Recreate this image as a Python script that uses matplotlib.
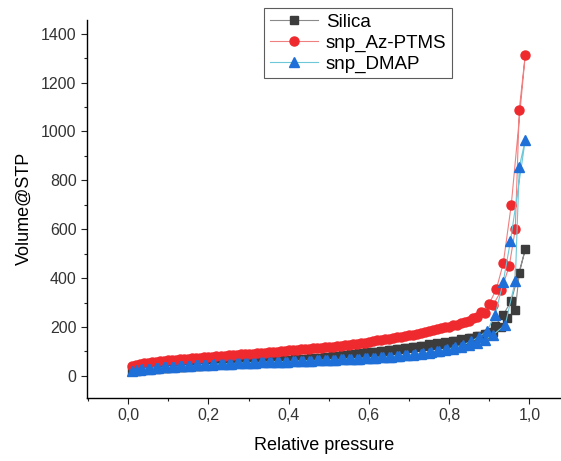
import matplotlib
matplotlib.use("Agg")
import matplotlib.pyplot as plt
from matplotlib.ticker import MultipleLocator, FuncFormatter

plt.rcParams['font.family'] = ['Liberation Sans', 'DejaVu Sans']

# ---------------- data ----------------
# adsorption branch followed by desorption branch for each sample
silica_x = [0.01, 0.03, 0.05, 0.07, 0.09, 0.11, 0.13, 0.15, 0.17, 0.19,
            0.21, 0.23, 0.25, 0.27, 0.29, 0.31, 0.33, 0.35, 0.37, 0.39,
            0.41, 0.43, 0.45, 0.47, 0.49, 0.51, 0.53, 0.55, 0.57, 0.59,
            0.61, 0.63, 0.65, 0.67, 0.69, 0.71, 0.73, 0.75, 0.77, 0.79,
            0.81, 0.83, 0.85, 0.87, 0.89, 0.91, 0.93, 0.945, 0.965, 0.975, 0.99,
            0.955, 0.935, 0.915, 0.895, 0.875, 0.855, 0.835, 0.815, 0.795,
            0.775, 0.755, 0.735, 0.715, 0.695, 0.675, 0.655, 0.635, 0.615,
            0.595, 0.575, 0.555, 0.535, 0.515, 0.495, 0.475, 0.455, 0.435, 0.415,
            0.395, 0.375, 0.355, 0.335, 0.315, 0.295, 0.275, 0.255, 0.235,
            0.215, 0.195, 0.175, 0.155, 0.135, 0.115, 0.095, 0.075, 0.055, 0.035, 0.02]
silica_y = [18, 23, 27, 30, 33, 35, 37, 39, 41, 43,
            45, 47, 49, 51, 53, 55, 57, 59, 61, 63,
            66, 68, 71, 74, 77, 80, 83, 87, 91, 95,
            99, 103, 107, 111, 115, 119, 124, 129, 134, 139,
            144, 150, 156, 162, 170, 180, 200, 235, 270, 420, 518,
            307, 250, 205, 172, 162, 154, 147, 141, 136,
            131, 126, 121, 117, 113, 109, 105, 101, 97,
            96, 92, 88, 84, 81, 78, 75, 72, 69, 67,
            64, 62, 60, 58, 56, 54, 52, 50, 48,
            46, 44, 42, 40, 38, 36, 34, 31, 28, 25, 20]

az_x = [0.01, 0.03, 0.05, 0.07, 0.09, 0.11, 0.13, 0.15, 0.17, 0.19,
        0.21, 0.23, 0.25, 0.27, 0.29, 0.31, 0.33, 0.35, 0.37, 0.39,
        0.41, 0.43, 0.45, 0.47, 0.49, 0.51, 0.53, 0.55, 0.57, 0.59,
        0.61, 0.63, 0.65, 0.67, 0.69, 0.71, 0.73, 0.75, 0.77, 0.79,
        0.81, 0.83, 0.85, 0.87, 0.89, 0.91, 0.93, 0.95, 0.965, 0.975, 0.99,
        0.955, 0.935, 0.918, 0.90, 0.88, 0.86, 0.84, 0.82, 0.80,
        0.78, 0.76, 0.74, 0.72, 0.70, 0.68, 0.66, 0.64, 0.62,
        0.60, 0.58, 0.56, 0.54, 0.52, 0.50, 0.48, 0.46, 0.44, 0.42, 0.40,
        0.38, 0.36, 0.34, 0.32, 0.30, 0.28, 0.26, 0.24, 0.22,
        0.20, 0.18, 0.16, 0.14, 0.12, 0.10, 0.08, 0.06, 0.04, 0.02]
az_y = [42, 48, 53, 57, 61, 64, 67, 70, 73, 76,
        79, 81, 84, 86, 89, 91, 94, 96, 99, 102,
        105, 108, 111, 114, 117, 120, 124, 128, 132, 136,
        141, 146, 151, 157, 163, 169, 176, 183, 190, 198,
        207, 216, 226, 240, 258, 290, 350, 450, 600, 1090, 1315,
        700, 460, 356, 295, 262, 237, 220, 209, 201,
        194, 187, 180, 173, 167, 161, 155, 150, 145,
        140, 135, 131, 127, 123, 119, 116, 113, 110, 107, 104,
        101, 98, 95, 93, 90, 88, 85, 83, 80,
        78, 75, 72, 69, 66, 63, 59, 55, 51, 45]

dmap_x = [0.01, 0.03, 0.05, 0.07, 0.09, 0.11, 0.13, 0.15, 0.17, 0.19,
          0.21, 0.23, 0.25, 0.27, 0.29, 0.31, 0.33, 0.35, 0.37, 0.39,
          0.41, 0.43, 0.45, 0.47, 0.49, 0.51, 0.53, 0.55, 0.57, 0.59,
          0.61, 0.63, 0.65, 0.67, 0.69, 0.71, 0.73, 0.75, 0.77, 0.79,
          0.81, 0.83, 0.85, 0.87, 0.89, 0.91, 0.94, 0.965, 0.975, 0.99,
          0.953, 0.935, 0.915, 0.895, 0.875, 0.855, 0.835, 0.815, 0.795,
          0.775, 0.755, 0.735, 0.715, 0.695, 0.675, 0.655, 0.635, 0.615,
          0.595, 0.575, 0.555, 0.535, 0.515, 0.495, 0.475, 0.455, 0.435, 0.415,
          0.395, 0.375, 0.355, 0.335, 0.315, 0.295, 0.275, 0.255, 0.235,
          0.215, 0.195, 0.175, 0.155, 0.135, 0.115, 0.095, 0.075, 0.055, 0.035, 0.02]
dmap_y = [20, 25, 29, 32, 35, 37, 39, 41, 43, 45,
          46, 48, 49, 51, 52, 53, 55, 56, 57, 58,
          59, 61, 62, 63, 64, 66, 67, 69, 70, 72,
          74, 76, 78, 81, 84, 87, 91, 95, 100, 105,
          111, 117, 125, 135, 148, 168, 209, 389, 855, 966,
          552, 385, 250, 185, 160, 141, 127, 117, 109,
          102, 96, 92, 88, 85, 82, 79, 77, 75,
          73, 71, 69, 67, 66, 64, 63, 62, 60, 59,
          58, 57, 56, 55, 54, 52, 51, 50, 48,
          47, 45, 43, 41, 39, 37, 35, 33, 30, 26, 22]

labels = ["Silica", "snp_Az-PTMS", "snp_DMAP"]
x_ticks = [0.0, 0.2, 0.4, 0.6, 0.8, 1.0]
y_ticks = [0, 200, 400, 600, 800, 1000, 1200, 1400]

# ---------------- figure ----------------
fig = plt.figure(figsize=(5.61, 4.61), dpi=100)
ax = fig.add_axes([0.155, 0.137, 0.845, 0.82])

ax.plot(silica_x, silica_y, color="#8a8a8a", lw=0.8, marker="s", ms=5.5,
        mfc="#3c3c3c", mec="#3c3c3c", label=labels[0])
ax.plot(az_x, az_y, color="#f08080", lw=0.8, marker="o", ms=6.5,
        mfc="#ee2a2f", mec="#ee2a2f", label=labels[1])
ax.plot(dmap_x, dmap_y, color="#6cc7d8", lw=0.8, marker="^", ms=6.5,
        mfc="#1f6fd8", mec="#1f6fd8", label=labels[2])

ax.set_xlim(-0.103, 1.079)
ax.set_ylim(-90, 1457)
ax.set_xticks(x_ticks)
ax.set_yticks(y_ticks)
ax.xaxis.set_minor_locator(MultipleLocator(0.1))
ax.yaxis.set_minor_locator(MultipleLocator(100))
ax.xaxis.set_major_formatter(FuncFormatter(lambda v, p: f"{v:.1f}".replace(".", ",")))
ax.tick_params(which="major", length=4, width=0.8, labelsize=11.5, colors="#222222",
               labelcolor="#333333")
ax.tick_params(which="minor", length=2.5, width=0.8, colors="#222222")
for s in ["top", "right"]:
    ax.spines[s].set_visible(False)
for s in ["left", "bottom"]:
    ax.spines[s].set_linewidth(1.0)

ax.set_xlabel("Relative pressure", fontsize=13, labelpad=10)
ax.set_ylabel("Volume@STP", fontsize=13, labelpad=6)

leg = ax.legend(loc="upper left", bbox_to_anchor=(264 / 561, 1 - 8 / 461),
                bbox_transform=fig.transFigure, fontsize=13.5, frameon=True,
                fancybox=False, edgecolor="#333333", handlelength=2.6,
                borderpad=0.3, labelspacing=0.2, handletextpad=0.4,
                borderaxespad=0)
leg.get_frame().set_linewidth(0.8)

fig.savefig("out.png", dpi=100)
